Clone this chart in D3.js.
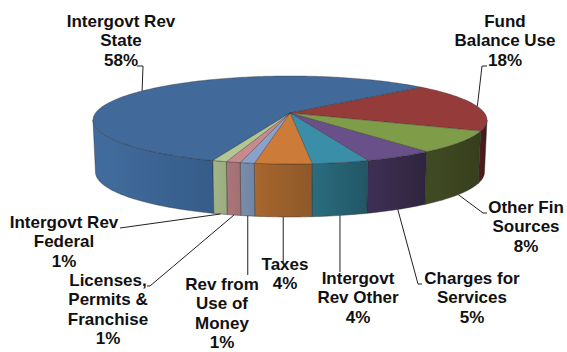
<!DOCTYPE html>
<html>
<head>
<meta charset="utf-8">
<style>
html,body{margin:0;padding:0;background:#fff}
svg{display:block}
text{font-family:"Liberation Sans",Arial,sans-serif;font-weight:700;font-size:17px;fill:#111;text-anchor:middle}
</style>
<script src="https://cdn.jsdelivr.net/npm/d3@7/dist/d3.min.js"></script>
</head>
<body>
<svg id="chart" width="567" height="352"></svg>
<script>
// Budget revenue sources, percent of total
const categories = ["Intergovt Rev State","Fund Balance Use","Other Fin Sources","Charges for Services","Intergovt Rev Other","Taxes","Rev from Use of Money","Licenses, Permits & Franchise","Intergovt Rev Federal"];
const shares = [58,18,8,5,4,4,1,1,1];
const labelLines = [
  ["Intergovt Rev","State","58%"],
  ["Fund","Balance Use","18%"],
  ["Other Fin","Sources","8%"],
  ["Charges for","Services","5%"],
  ["Intergovt","Rev Other","4%"],
  ["Taxes","4%"],
  ["Rev from","Use of","Money","1%"],
  ["Licenses,","Permits &","Franchise","1%"],
  ["Intergovt Rev","Federal","1%"]
];
const topColors  = ["#41699a","#953c3b","#7f9c48","#6a5088","#3b8ea8","#cc7c38","#8ba0ca","#c98a8b","#b3c795"];
const wallLeft   = ["#416d9e","#531e1d","#414c23","#3e3056","#2b6d80","#a8672e","#7a8dae","#ab767a","#a3b487"];
const wallRight  = ["#365c89","#441918","#373e1d","#2f253e","#225665","#8e5829","#71849f","#a26f73","#9bac80"];

// Label block placement: centre x, first baseline y
const labelX = [121,505,526,472,358,285,222,108,64];
const labelY = [27,27,213,284,284,270,290,286,228];
// Leader route from the block toward the slice: outer end, optional elbow
const leaderEnd   = [[137,66],[487,66],[487,213],[422,284],[342,272],[285,262],[249,275],[147,286],[120,228]];
const leaderElbow = [[143,66],[482,66],[483,213],[418,284],null,null,null,[150,286],null];
// Which rim the leader lands on
const leaderOnBase = [false,false,true,true,true,true,true,true,true];

const lineStep = 19.3;
const redBoundary = 41.5 * Math.PI / 180;

const svg = d3.select("#chart");

// Pie angles run clockwise; the first slice ends at the boundary on the far right
const firstSweep = 2 * Math.PI * shares[0] / d3.sum(shares);
const pieStart = Math.PI / 2 - redBoundary - firstSweep;
const arcs = d3.pie().sort(null).value(d => d)
  .startAngle(pieStart)
  .endAngle(pieStart + 2 * Math.PI)(shares);

// Perspective projection of the disc: near edge is drawn larger than the far edge
const tilt = 0.159;
const cx = 290;
const topDisc  = {cy:113, a:194.5, b:42.9};
const baseDisc = {cy:165, a:192,   b:43.7};
function project(disc, angle){
  const X = Math.sin(angle), Y = Math.cos(angle);
  const w = 1 + tilt * Y;
  return [cx + disc.a * X / w, disc.cy - disc.b * Y / w];
}
function samples(a0, a1){
  const n = Math.max(2, Math.ceil(Math.abs(a1 - a0) / 0.02));
  return d3.range(n + 1).map(i => a0 + (a1 - a0) * i / n);
}
const pathOf = d3.line();

// The wall is visible between the two silhouette tangents
const wallFrom = Math.PI / 2 + Math.asin(tilt);
const wallTo = 3 * Math.PI / 2 - Math.asin(tilt);

const defs = svg.append("defs");
arcs.forEach((d, i) => {
  const g = defs.append("linearGradient").attr("id", "wall" + i);
  g.append("stop").attr("offset", 0).attr("stop-color", wallLeft[i]);
  g.append("stop").attr("offset", 1).attr("stop-color", wallRight[i]);
});

// Side walls; the first slice starts before zero, so it is also tested one turn on
const wallLayer = svg.append("g");
arcs.forEach((d, i) => {
  [0, 2 * Math.PI].forEach(shift => {
    const a0 = Math.max(d.startAngle + shift, wallFrom);
    const a1 = Math.min(d.endAngle + shift, wallTo);
    if (a1 <= a0) return;
    const ang = samples(a0, a1);
    const pts = ang.map(a => project(topDisc, a)).concat(ang.slice().reverse().map(a => project(baseDisc, a)));
    wallLayer.append("path")
      .attr("d", pathOf(pts) + "Z")
      .attr("fill", `url(#wall${i})`)
      .attr("stroke", "#2c2c2c").attr("stroke-opacity", 0.55).attr("stroke-width", 0.8)
      .attr("stroke-linejoin", "round");
  });
});

// Top face
const faceLayer = svg.append("g");
arcs.forEach((d, i) => {
  const rim = samples(d.startAngle, d.endAngle).map(a => project(topDisc, a));
  const pts = [[cx, topDisc.cy]].concat(rim);
  faceLayer.append("path")
    .attr("d", pathOf(pts) + "Z")
    .attr("fill", topColors[i])
    .attr("stroke", "#2c2c2c").attr("stroke-opacity", 0.5).attr("stroke-width", 0.7)
    .attr("stroke-linejoin", "round");
});

// Leader lines
const leaderLayer = svg.append("g").attr("fill", "none").attr("stroke", "#222").attr("stroke-width", 1);
arcs.forEach((d, i) => {
  const mid = (d.startAngle + d.endAngle) / 2;
  const anchor = project(leaderOnBase[i] ? baseDisc : topDisc, mid);
  const route = [leaderEnd[i]];
  if (leaderElbow[i]) route.push(leaderElbow[i]);
  // straight verticals keep the x of the slice midpoint
  if (!leaderElbow[i] && i >= 4 && i <= 6) route[0] = [anchor[0], leaderEnd[i][1]];
  route.push(anchor);
  leaderLayer.append("path").attr("d", pathOf(route));
});

// Labels
const labelLayer = svg.append("g");
labelLines.forEach((rows, i) => {
  const t = labelLayer.append("text").attr("aria-label", categories[i]);
  rows.forEach((r, k) => {
    t.append("tspan").attr("x", labelX[i]).attr("y", labelY[i] + k * lineStep).text(r);
  });
});
</script>
</body>
</html>
